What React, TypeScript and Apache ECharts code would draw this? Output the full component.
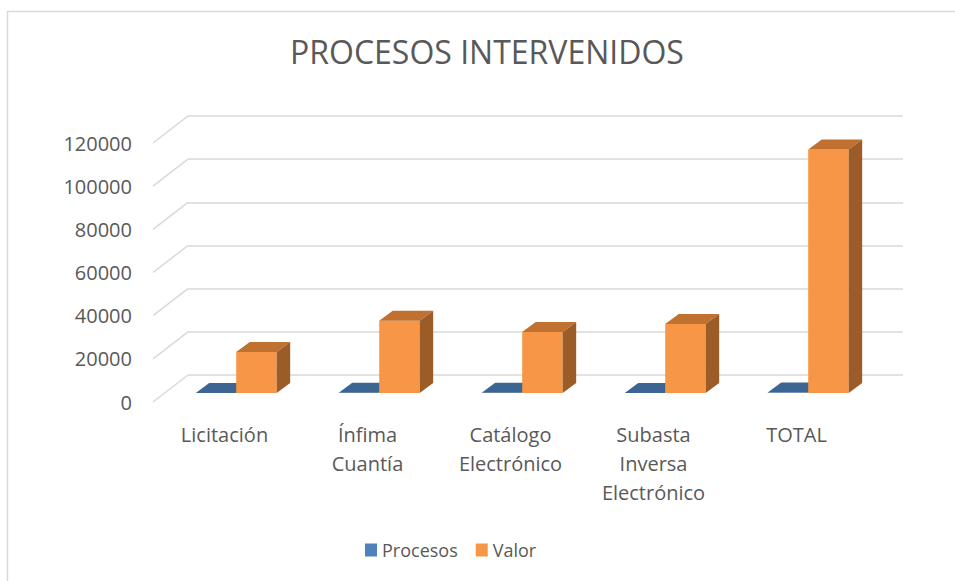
import React, { useEffect, useRef } from "react";
import * as echarts from "echarts";

const categories = ["Licitación", "Ínfima\nCuantía", "Catálogo\nElectrónico", "Subasta\nInversa\nElectrónico", "TOTAL"];
const seriesNames = ["Procesos", "Valor"];
const procesos = [5, 120, 60, 40, 225];
const valor = [19000, 33500, 28300, 32000, 112800];
const yTicks = [0, 20000, 40000, 60000, 80000, 100000, 120000];

const FONT = "'Open Sans', 'Noto Sans', sans-serif";
const TXT = "#595959";
const GRID = "#D9D9D9";

// depth geometry (px)
const WALL_DX = 35;
const WALL_DY = 27;
const BAR_DX0 = 11.7;
const BAR_DY0 = -9;
const BAR_DDX = 13.5;
const BAR_DDY = -10;

const palettes = [
  { front: "#4F81BD", top: "#3C6591", side: "#2E4D70" },
  { front: "#F79646", top: "#C0712F", side: "#9C5C27" },
];

function makeBarRender(s: number) {
  return (params: any, api: any) => {
    const idx = api.value(0);
    const v = api.value(1);
    const c = api.coord([idx, 0]);
    const t = api.coord([idx, v]);
    const band = api.size([1, 0])[0];
    const w = band * 0.283;
    const xl = c[0] + BAR_DX0 + (s === 0 ? -w : 0);
    const yb = c[1] + BAR_DY0;
    const yt = t[1] + BAR_DY0;
    const p = palettes[s];
    return {
      type: "group",
      children: [
        {
          type: "rect",
          shape: { x: xl, y: yt, width: w, height: Math.max(0, yb - yt) },
          style: { fill: p.front },
        },
        {
          type: "polygon",
          shape: {
            points: [
              [xl, yt],
              [xl + w, yt],
              [xl + w + BAR_DDX, yt + BAR_DDY],
              [xl + BAR_DDX, yt + BAR_DDY],
            ],
          },
          style: { fill: p.top },
        },
        {
          type: "polygon",
          shape: {
            points: [
              [xl + w, yt],
              [xl + w + BAR_DDX, yt + BAR_DDY],
              [xl + w + BAR_DDX, yb + BAR_DDY],
              [xl + w, yb],
            ],
          },
          style: { fill: p.side },
        },
      ],
    };
  };
}

export default function App() {
  const ref = useRef<HTMLDivElement>(null);
  useEffect(() => {
    if (!ref.current) return;
    const chart = echarts.init(ref.current, undefined, { renderer: "svg" });
    chart.setOption({
      animation: false,
      backgroundColor: "#ffffff",
      title: {
        text: "PROCESOS INTERVENIDOS",
        left: 285,
        top: 30,
        textStyle: { fontFamily: FONT, fontSize: 32, fontWeight: "normal", color: TXT },
      },
      legend: {
        left: 360,
        top: 536,
        itemWidth: 12,
        itemHeight: 13,
        itemGap: 18,
        icon: "rect",
        textStyle: { fontFamily: FONT, fontSize: 18, color: TXT },
        data: [
          { name: seriesNames[0], itemStyle: { color: palettes[0].front } },
          { name: seriesNames[1], itemStyle: { color: palettes[1].front } },
        ],
      },
      graphic: [
        {
          type: "polyline",
          shape: { points: [[7.5, 581], [7.5, 11.5], [955, 11.5]] },
          style: { stroke: GRID, lineWidth: 1.5, fill: "none" },
          silent: true,
        },
      ],
      grid: [
        { left: 153, right: 87, top: 143, bottom: 179 },
        { left: 188, right: 52, top: 116, bottom: 206 },
      ],
      xAxis: [
        {
          type: "category",
          gridIndex: 0,
          data: categories,
          axisLine: { show: false },
          axisTick: { show: false },
          axisLabel: {
            fontFamily: FONT,
            fontSize: 20,
            lineHeight: 29,
            color: TXT,
            margin: 18,
            interval: 0,
          },
        },
        { type: "value", gridIndex: 1, min: 0, max: 5, show: false },
      ],
      yAxis: [
        {
          type: "value",
          gridIndex: 0,
          min: 0,
          max: 120000,
          interval: 20000,
          splitLine: { show: false },
          axisLine: { show: false },
          axisTick: { show: false },
          axisLabel: {
            fontFamily: FONT,
            fontSize: 20,
            color: TXT,
            margin: 21,
            formatter: (v: number) => String(v),
          },
        },
        {
          type: "value",
          gridIndex: 1,
          min: 0,
          max: 120000,
          interval: 20000,
          axisLabel: { show: false },
          axisLine: { show: false },
          axisTick: { show: false },
          splitLine: { show: true, lineStyle: { color: GRID, width: 1.5 } },
        },
      ],
      series: [
        {
          type: "custom",
          name: "walls",
          xAxisIndex: 1,
          yAxisIndex: 1,
          silent: true,
          clip: false,
          data: yTicks.map((v) => [0, v]),
          renderItem: (params: any, api: any) => {
            const p = api.coord([0, api.value(1)]);
            return {
              type: "line",
              shape: { x1: p[0], y1: p[1], x2: p[0] - WALL_DX, y2: p[1] + WALL_DY },
              style: { stroke: GRID, lineWidth: 1.5 },
            };
          },
        },
        {
          type: "custom",
          name: seriesNames[0],
          xAxisIndex: 0,
          yAxisIndex: 0,
          clip: false,
          itemStyle: { color: palettes[0].front },
          data: procesos.map((v, i) => [i, v]),
          renderItem: makeBarRender(0),
        },
        {
          type: "custom",
          name: seriesNames[1],
          xAxisIndex: 0,
          yAxisIndex: 0,
          clip: false,
          itemStyle: { color: palettes[1].front },
          data: valor.map((v, i) => [i, v]),
          renderItem: makeBarRender(1),
        },
      ],
    });
    return () => chart.dispose();
  }, []);
  return (
    <div
      ref={ref}
      style={{ position: "fixed", left: 0, top: 0, width: 955, height: 581 }}
    />
  );
}
